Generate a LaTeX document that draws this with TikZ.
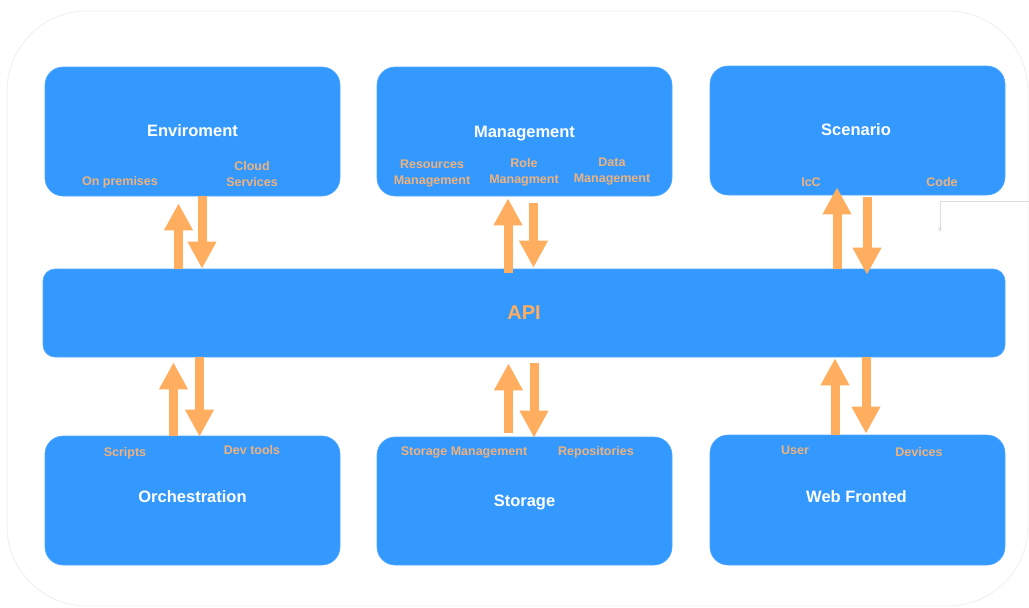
\documentclass[tikz,border=0pt]{standalone}
\usepackage{fontspec}
\setmainfont{Liberation Sans}
\usetikzlibrary{arrows.meta}

\definecolor{boxblue}{HTML}{3399FF}
\definecolor{flowor}{HTML}{FFAD5E}
\definecolor{subor}{HTML}{EFB27B}
\definecolor{framegray}{HTML}{EEEEEE}
\definecolor{hintgray}{HTML}{DDDDDD}

\tikzset{
  block/.style={draw=boxblue!85!white, line width=0.6pt, fill=boxblue, rounded corners=18pt,
    minimum width=295pt, inner sep=0pt},
  apibar/.style={block, minimum width=962pt, minimum height=88pt, rounded corners=12pt},
  title/.style={text=white, inner sep=0pt, font=\bfseries\fontsize{16.5}{20}\selectfont},
  apititle/.style={text=flowor, inner sep=0pt, font=\bfseries\fontsize{20}{24}\selectfont},
  sub/.style={text=subor, inner sep=0pt, align=center, font=\bfseries\fontsize{12.5}{16}\selectfont},
  flow/.style={draw=flowor, line width=9pt, -{Triangle[width=27pt,length=27pt]}},
  hint/.style={draw=hintgray, line width=0.6pt, -{Stealth[length=5pt,width=4pt]}}
}

\begin{document}
\begin{tikzpicture}[x=1pt,y=-1pt]
\useasboundingbox (0,0) rectangle (1029,608);

% outer frame
\draw[framegray, line width=0.8pt, rounded corners=80pt] (7,11) rectangle (1028,606);

% top row
\node[block, minimum height=129pt] (env) at (192.5,131.5) {};
\node[block, minimum height=129pt] (mgmt) at (524.5,131.5) {};
\node[block, minimum height=129pt] (scen) at (857.5,130.5) {};

% central bus
\node[apibar] (api) at (524,313) {};

% bottom row
\node[block, minimum height=129pt] (orch) at (192.5,500.5) {};
\node[block, minimum height=128pt] (stor) at (524.5,501) {};
\node[block, minimum height=130pt] (web) at (857.5,500) {};

% titles
\node[title] (envt) at (192.5,131) {Enviroment};
\node[title] (mgmtt) at (524.5,134) {Management};
\node[title] (scent) at (856,130) {Scenario};
\node[apititle] (apit) at (524,313) {API};
\node[title] (orcht) at (192.5,497) {Orchestration};
\node[title] (stort) at (524.5,502) {Storage};
\node[title] (webt) at (856.5,497) {Web Fronted};

% sub-labels
\node[sub] (onprem) at (120,182) {On premises};
\node[sub] (cloud) at (252,174) {Cloud\\Services};
\node[sub] (resm) at (432,174) {Resources\\Management};
\node[sub] (rolem) at (524,172) {Role\\Managment};
\node[sub] (datam) at (612,172) {Data\\Management};
\node[sub] (icc) at (811,182) {IcC};
\node[sub] (code) at (942,182) {Code};
\node[sub] (scripts) at (125,453) {Scripts};
\node[sub] (devt) at (252,450) {Dev tools};
\node[sub] (storm) at (464,452) {Storage Management};
\node[sub] (repo) at (596,452) {Repositories};
\node[sub] (user) at (795,450) {User};
\node[sub] (dev) at (919,452) {Devices};

% arrow columns
\coordinate (a1u) at (178.5,0); \coordinate (a1d) at (202,0);
\coordinate (b1u) at (173.5,0); \coordinate (b1d) at (199.5,0);
\coordinate (a2u) at (508,0);   \coordinate (a2d) at (533.5,0);
\coordinate (b2u) at (508.5,0); \coordinate (b2d) at (534,0);
\coordinate (a3u) at (837,0);   \coordinate (a3d) at (867,0);
\coordinate (b3u) at (835,0);   \coordinate (b3d) at (866,0);

% top links
\draw[flow, shorten >=7pt] (api.north -| a1u) -- (env.south -| a1u);
\draw[flow] (env.south -| a1d) -- (api.north -| a1d);
\draw[flow, shorten >=2pt, shorten <=-4pt] (api.north -| a2u) -- (mgmt.south -| a2u);
\draw[flow, shorten <=7pt, shorten >=1pt] (mgmt.south -| a2d) -- (api.north -| a2d);
\draw[flow, shorten >=-8pt] (api.north -| a3u) -- (scen.south -| a3u);
\draw[flow, shorten <=2pt, shorten >=-6pt] (scen.south -| a3d) -- (api.north -| a3d);

% bottom links
\draw[flow, shorten >=5pt] (orch.north -| b1u) -- (api.south -| b1u);
\draw[flow, shorten >=-1pt] (api.south -| b1d) -- (orch.north -| b1d);
\draw[flow, shorten >=6pt, shorten <=4pt] (stor.north -| b2u) -- (api.south -| b2u);
\draw[flow, shorten <=6pt, shorten >=-1pt] (api.south -| b2d) -- (stor.north -| b2d);
\draw[flow, shorten >=1pt] (web.north -| b3u) -- (api.south -| b3u);
\draw[flow, shorten >=1pt] (api.south -| b3d) -- (web.north -| b3d);

% faint leader on the right
\coordinate (hs) at (1029,201);
\coordinate (hc) at (940,201);
\coordinate (he) at (940,232);
\draw[hint] (hs) -- (hc) -- (he);
\end{tikzpicture}
\end{document}
